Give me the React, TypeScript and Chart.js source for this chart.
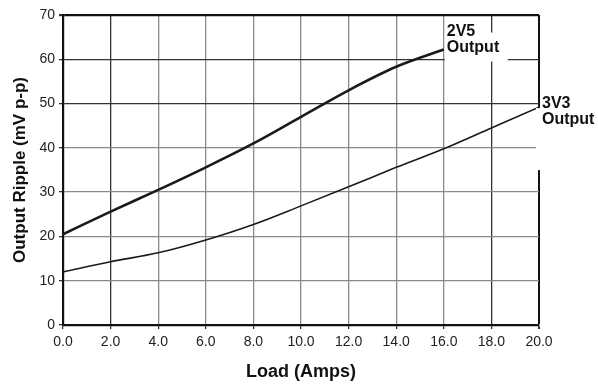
import React, { useEffect, useRef } from "react";
import { Chart, registerables } from "chart.js";

Chart.register(...registerables);

const load2V5 = [0, 2, 4, 6, 8, 10, 12, 14, 16];
const ripple2V5 = [20.5, 25.6, 30.5, 35.6, 41.0, 47.0, 53.0, 58.3, 62.2];
const load3V3 = [0, 2, 4, 6, 8, 10, 12, 14, 16, 18, 20];
const ripple3V3 = [12.0, 14.3, 16.3, 19.2, 22.7, 26.9, 31.2, 35.6, 39.8, 44.5, 49.2];

const xTicks = [0, 2, 4, 6, 8, 10, 12, 14, 16, 18, 20];
const yTicks = [0, 10, 20, 30, 40, 50, 60, 70];
const seriesLabels = [["2V5", "Output"], ["3V3", "Output"]];

const FONT = "'Liberation Sans', Arial, sans-serif";

const labelPlugin = {
  id: "endLabels",
  afterDatasetsDraw(chart: any) {
    const ctx = chart.ctx;
    const xs = chart.scales.x;
    const ys = chart.scales.y;
    ctx.save();
    ctx.font = `bold 16px ${FONT}`;
    ctx.fillStyle = "#111";
    ctx.textAlign = "left";
    ctx.textBaseline = "alphabetic";
    // 2V5 label
    {
      const px = xs.getPixelForValue(load2V5[load2V5.length - 1]);
      const py = ys.getPixelForValue(ripple2V5[ripple2V5.length - 1]);
      ctx.fillStyle = "#fff";
      ctx.fillRect(px + 1, py - 17, 63, 29);
      ctx.fillStyle = "#111";
      ctx.fillText(seriesLabels[0][0], px + 3, py - 14);
      ctx.fillText(seriesLabels[0][1], px + 3, py + 2);
    }
    // 3V3 label
    {
      const px = xs.getPixelForValue(load3V3[load3V3.length - 1]);
      const py = ys.getPixelForValue(ripple3V3[ripple3V3.length - 1]);
      ctx.fillStyle = "#fff";
      ctx.fillRect(px - 3, py + 1, chart.width - px + 3, 62);
      ctx.fillStyle = "#111";
      ctx.fillText(seriesLabels[1][0], px + 3, py + 1);
      ctx.fillText(seriesLabels[1][1], px + 3, py + 17);
    }
    ctx.restore();
  },
};

export default function App() {
  const ref = useRef<HTMLCanvasElement | null>(null);
  useEffect(() => {
    if (!ref.current) return;
    const chart = new Chart(ref.current, {
      type: "line",
      data: {
        datasets: [
          {
            label: "2V5 Output",
            data: load2V5.map((x, i) => ({ x, y: ripple2V5[i] })),
            borderColor: "#1a1a1a",
            borderWidth: 2.6,
            pointRadius: 0,
            cubicInterpolationMode: "monotone",
            fill: false,
          },
          {
            label: "3V3 Output",
            data: load3V3.map((x, i) => ({ x, y: ripple3V3[i] })),
            borderColor: "#1a1a1a",
            borderWidth: 1.6,
            pointRadius: 0,
            cubicInterpolationMode: "monotone",
            fill: false,
          },
        ],
      },
      options: {
        responsive: false,
        animation: false,
        layout: { padding: { left: 0, right: 59, top: 15, bottom: 0 } },
        plugins: { legend: { display: false }, tooltip: { enabled: false } },
        scales: {
          x: {
            type: "linear",
            min: 0,
            max: 20,
            afterBuildTicks: (s: any) => {
              s.ticks = xTicks.map((v) => ({ value: v }));
            },
            afterFit: (s: any) => {
              s.height = 60;
            },
            ticks: {
              callback: (v: any) => Number(v).toFixed(1),
              font: { family: FONT, size: 14 },
              color: "#222",
              padding: 5,
              maxRotation: 0,
            },
            grid: {
              color: (c: any) => {
                const v = c.tick ? c.tick.value : 0;
                if (v === 20) return "#111";
                if (v === 2 || v === 18) return "#333";
                return "#8a8a8a";
              },
              lineWidth: (c: any) => {
                const v = c.tick ? c.tick.value : 0;
                return v === 20 ? 2 : 1.3;
              },
              tickLength: 4,
              tickColor: "#333",
            },
            border: { color: "#111", width: 2.2 },
            title: {
              display: true,
              text: "Load (Amps)",
              font: { family: FONT, size: 18, weight: "bold" },
              color: "#111",
              padding: { top: 0, bottom: 2 },
            },
          },
          y: {
            type: "linear",
            min: 0,
            max: 70,
            afterBuildTicks: (s: any) => {
              s.ticks = yTicks.map((v) => ({ value: v }));
            },
            afterFit: (s: any) => {
              s.width = 63;
            },
            ticks: {
              font: { family: FONT, size: 14 },
              color: "#222",
              padding: 4,
            },
            grid: {
              color: (c: any) => {
                const v = c.tick ? c.tick.value : 0;
                if (v === 70) return "#111";
                if (v === 50 || v === 60) return "#333";
                return "#8a8a8a";
              },
              lineWidth: (c: any) => {
                const v = c.tick ? c.tick.value : 0;
                return v === 70 ? 2.2 : 1.3;
              },
              tickLength: 4,
              tickColor: "#333",
            },
            border: { color: "#111", width: 2.2 },
            title: {
              display: true,
              text: "Output Ripple (mV p-p)",
              font: { family: FONT, size: 17, weight: "bold" },
              color: "#111",
              padding: { top: 10, bottom: 0 },
            },
          },
        },
      },
      plugins: [labelPlugin],
    });
    return () => chart.destroy();
  }, []);
  return (
    <div style={{ position: "fixed", left: 0, top: 0, width: 598, height: 385, background: "#fff" }}>
      <canvas ref={ref} width={598} height={385} />
    </div>
  );
}
